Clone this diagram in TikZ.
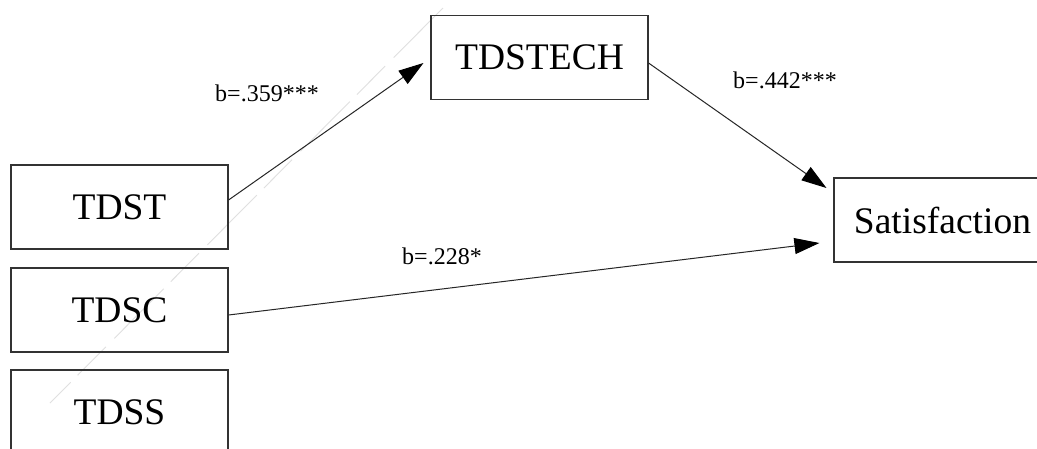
\documentclass[tikz,border=0pt]{standalone}
\usepackage{fontspec}
\setmainfont{Liberation Serif}
\usetikzlibrary{arrows.meta}
\tikzset{
  varbox/.style={draw=black!80, line width=1.1pt, minimum width=217pt, minimum height=84pt, inner sep=0pt, font=\fontsize{37.5}{40}\selectfont},
  path arrow/.style={draw=black!85, line width=1pt, -{Triangle[length=25pt,width=16pt,color=black,fill=black]}},
  coef/.style={inner sep=0pt, font=\fontsize{24}{26}\selectfont},
  ghost/.style={draw=black!12, line width=0.9pt, dash pattern=on 70pt off 12pt on 40pt off 10pt}
}
\begin{document}
\begin{tikzpicture}[x=1pt,y=-1pt]
\useasboundingbox (0,0) rectangle (1037,448);
\clip (0,0) rectangle (1037,448);
\fill[white] (0,0) rectangle (1037,448);
% faint artifact line
\coordinate (g1) at (443,8);
\coordinate (g2) at (50,403);
\draw[ghost] (g1) -- (g2);
% nodes
\node[varbox] (tdst) at (119.5,207) {TDST};
\node[varbox] (tdsc) at (119.5,310) {TDSC};
\node[varbox] (tdss) at (119.5,412) {TDSS};
\node[varbox] (tdstech) at (539.5,57.5) {TDSTECH};
\node[varbox] (sat) at (942.5,220) {Satisfaction};
% connectors
\draw[path arrow] ([yshift=7pt]tdst.east) -- ([xshift=-7pt,yshift=-5.5pt]tdstech.west);
\draw[path arrow] ([yshift=-5.5pt]tdstech.east) -- ([xshift=-7pt,yshift=32pt]sat.west);
\draw[path arrow] ([yshift=-5pt]tdsc.east) -- ([xshift=-14pt,yshift=-23pt]sat.west);
% labels
\node[coef] (l1) at (267,93) {b=.359***};
\node[coef] (l2) at (785,80) {b=.442***};
\node[coef] (l3) at (442,256) {b=.228*};
\end{tikzpicture}
\end{document}
